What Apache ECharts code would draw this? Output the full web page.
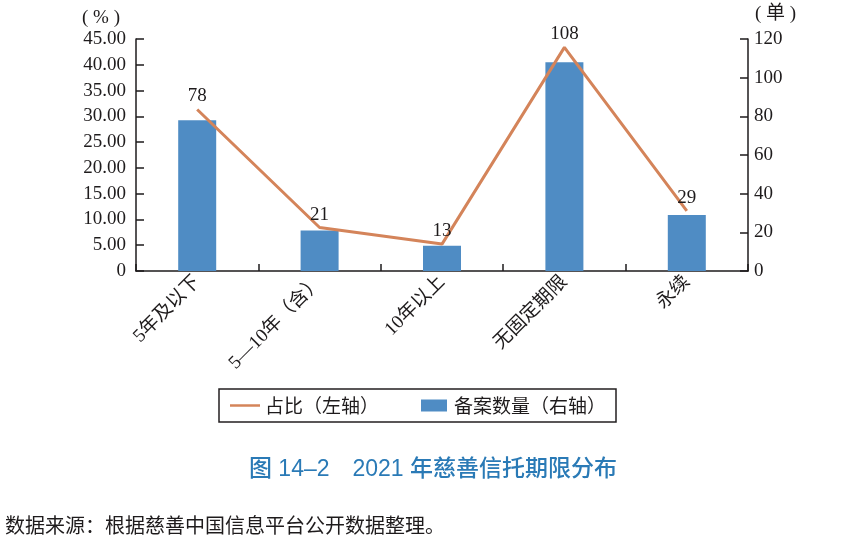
<!DOCTYPE html>
<html>
<head>
<meta charset="utf-8">
<script src="https://cdn.jsdelivr.net/npm/echarts@6/dist/echarts.min.js"></script>
<style>html,body{margin:0;padding:0;background:#fff;}#c{width:866px;height:537px;}</style>
</head>
<body>
<div id="c"></div>
<script>
var categories = ['5年及以下', '5—10年（含）', '10年以上', '无固定期限', '永续'];
var counts = [78, 21, 13, 108, 29];
var shares = [31.33, 8.43, 5.22, 43.37, 11.65];
var leftTicks = [0, 45, 5];
var rightTicks = [0, 120, 20];
var lineName = '占比（左轴）';
var barName = '备案数量（右轴）';
var titleText = '图 14–2\u30002021 年慈善信托期限分布';
var sourceText = '数据来源：根据慈善中国信息平台公开数据整理。';

var serif = "'Liberation Serif','Noto Sans CJK SC',serif";
var cjk = "'Noto Sans CJK SC','Liberation Serif',sans-serif";
var ink = '#1e1b1c';

var chart = echarts.init(document.getElementById('c'), null, {renderer: 'canvas'});
chart.setOption({
  animation: false,
  backgroundColor: '#fff',
  grid: {left: 136, right: 118, top: 39, bottom: 266, containLabel: false},
  legend: {
    data: [
      {name: lineName, icon: 'path://M0,0M30,12M0,4.75H30V7.25H0Z'},
      {name: barName, icon: 'path://M0,0M30,12M2,0H28V12H2Z'}
    ],
    left: 219, top: 389,
    padding: [7, 10, 7, 11],
    borderColor: '#231f20', borderWidth: 1.5,
    itemWidth: 30, itemHeight: 12, itemGap: 40,
    textStyle: {fontFamily: cjk, fontSize: 19, color: ink}
  },
  title: [
    {text: titleText, left: 'center', top: 453,
     textStyle: {fontFamily: "'Liberation Sans','Noto Sans CJK SC',sans-serif", fontSize: 23, fontWeight: 500, color: '#2a7ab6'}},
    {text: sourceText, left: 0, top: 510,
     textStyle: {fontFamily: cjk, fontSize: 20, fontWeight: 'normal', color: ink}}
  ],
  graphic: [
    {type: 'text', left: 82, top: 9, style: {text: '( % )', font: '19px ' + serif, fill: ink}},
    {type: 'text', left: 755, top: 5, style: {text: '( 单 )', font: '19px ' + serif, fill: ink}}
  ],
  xAxis: {
    type: 'category', data: categories, boundaryGap: true,
    axisLine: {lineStyle: {color: ink, width: 1.5}},
    axisTick: {show: true, inside: true, length: 7, lineStyle: {color: ink, width: 1.5}},
    axisLabel: {rotate: 45, fontFamily: serif, fontSize: 19, color: ink, margin: 8, interval: 0}
  },
  yAxis: [
    {type: 'value', min: leftTicks[0], max: leftTicks[1], interval: leftTicks[2], position: 'left',
     axisLine: {show: true, lineStyle: {color: ink, width: 1.5}},
     axisTick: {show: true, inside: true, length: 8, lineStyle: {color: ink, width: 1.5}},
     splitLine: {show: false},
     axisLabel: {fontFamily: serif, fontSize: 19, color: ink, margin: 10,
       formatter: function (v) { return v === 0 ? '0' : v.toFixed(2); }}},
    {type: 'value', min: rightTicks[0], max: rightTicks[1], interval: rightTicks[2], position: 'right',
     axisLine: {show: true, lineStyle: {color: ink, width: 1.5}},
     axisTick: {show: true, inside: true, length: 8, lineStyle: {color: ink, width: 1.5}},
     splitLine: {show: false},
     axisLabel: {fontFamily: serif, fontSize: 19, color: ink, margin: 6}}
  ],
  series: [
    {name: barName, type: 'bar', yAxisIndex: 1, data: counts, barWidth: 38,
     itemStyle: {color: '#4f8cc4'}, z: 2},
    {name: lineName, type: 'line', yAxisIndex: 0, data: shares, symbol: 'none',
     lineStyle: {color: '#d4845a', width: 3}, itemStyle: {color: '#d4845a'}, z: 3},
    {name: 'labels', type: 'scatter', yAxisIndex: 0, data: shares, symbol: 'circle', symbolSize: 1,
     itemStyle: {color: '#ffffff', opacity: 0}, z: 4, silent: true,
     label: {show: true, position: 'top', distance: 3, fontFamily: serif, fontSize: 19, color: ink, opacity: 1,
       formatter: function (p) { return String(counts[p.dataIndex]); }}}
  ]
});
</script>
</body>
</html>
